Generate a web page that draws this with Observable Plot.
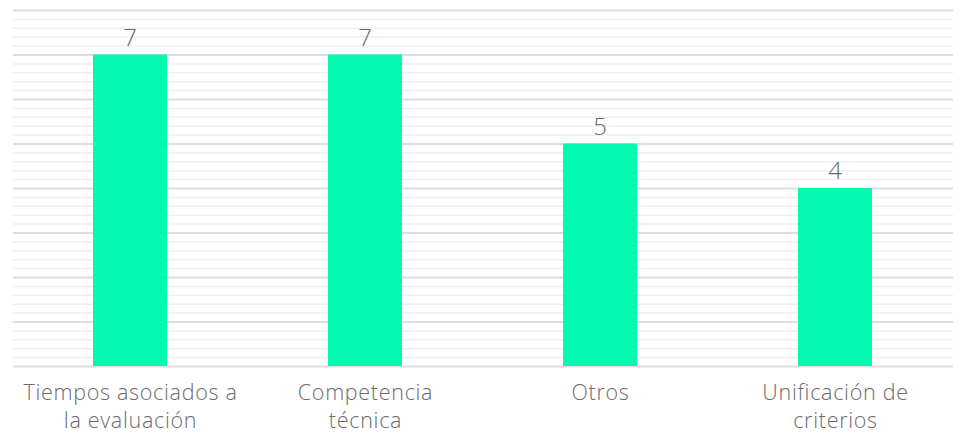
<!DOCTYPE html>
<html><head><meta charset="utf-8">
<script src="https://cdn.jsdelivr.net/npm/d3@7"></script>
<script src="https://cdn.jsdelivr.net/npm/@observablehq/plot@0.6"></script>
<style>body{margin:0;background:#fff}</style>
</head><body><div id="chart"></div>
<script>
const categories = ["Tiempos asociados a\nla evaluación", "Competencia\ntécnica", "Otros", "Unificación de\ncriterios"];
const values = [7, 7, 5, 4];
const majorTicks = [0,1,2,3,4,5,6,7,8];
const minorTicks = d3.range(0, 40).map(i => i / 5).filter(v => !Number.isInteger(v));

const data = categories.map((c, i) => ({cat: c, value: values[i]}));
const font = "'Open Sans', Lato, sans-serif";

const chart = Plot.plot({
  width: 960, height: 435,
  marginLeft: 13, marginRight: 7, marginTop: 10, marginBottom: 69,
  style: {fontFamily: font, background: "#fff", letterSpacing: "0.7px"},
  x: {domain: categories, paddingInner: 0.685, paddingOuter: 0.3425, align: 0.5, label: null},
  y: {domain: [0, 8], axis: null},
  marks: [
    Plot.ruleY(minorTicks, {stroke: "#efefef", strokeWidth: 1.5}),
    Plot.ruleY(majorTicks, {stroke: "#dedede", strokeWidth: 2}),
    Plot.barY(data, {x: "cat", y: "value", fill: "#05fab1"}),
    Plot.text(data, {x: "cat", y: "value", text: d => String(d.value), dy: -17, fontSize: 24, fill: "#6b6b6b", fontWeight: 300}),
    Plot.axisX({tickSize: 0, tickPadding: 14, fontSize: 21.5, lineHeight: 1.3, lineAnchor: "top", fill: "#6b6b6b", fontWeight: 300, label: null})
  ]
});
document.getElementById("chart").append(chart);
</script>
</body></html>
